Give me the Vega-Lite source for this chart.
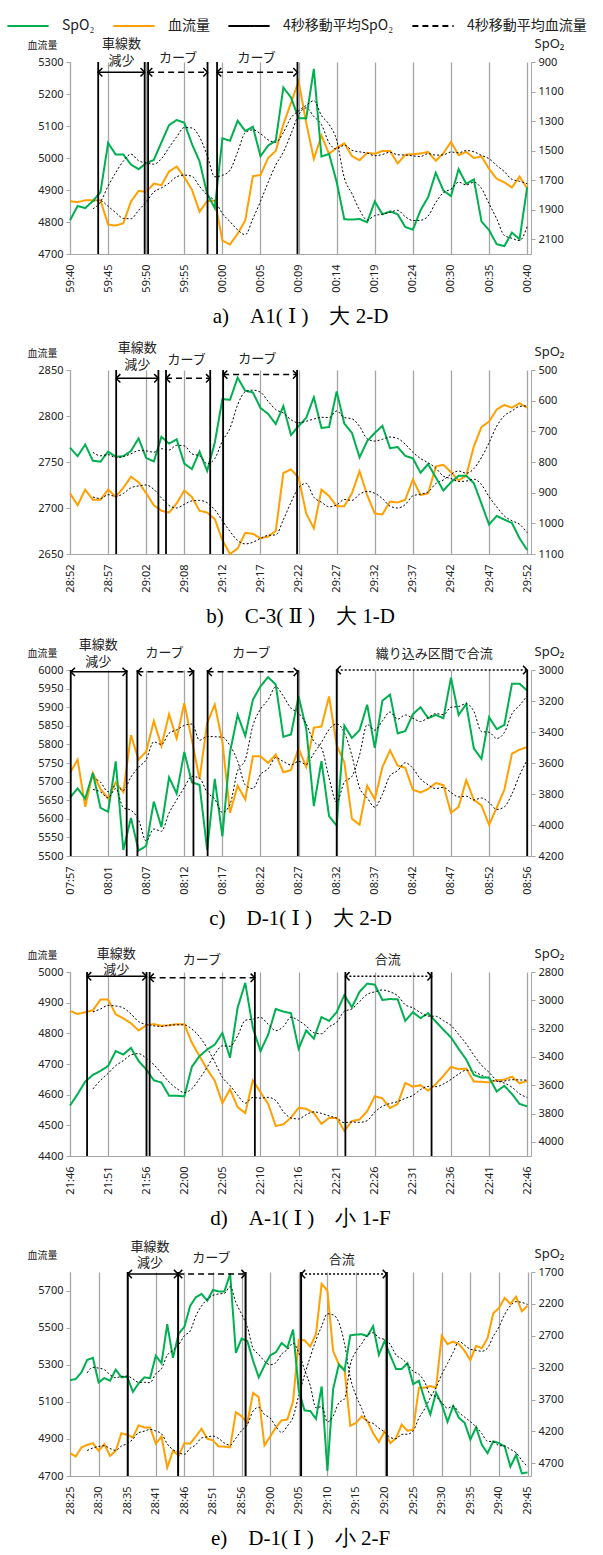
{
"$schema": "https://vega.github.io/schema/vega-lite/v6.json",
"padding": {"left": 6, "top": 4, "right": 0, "bottom": 0},
"bounds": "flush",
"spacing": 116,
"config": {
 "view": {"stroke": null},
 "axis": {"domainColor": "#a6a6a6", "tickColor": "#a6a6a6", "gridColor": "#a6a6a6", "labelFont": "Noto Sans", "labelFontSize": 11, "labelColor": "#222222", "titleFont": "Noto Sans CJK JP", "titleFontWeight": "normal", "titleColor": "#222222", "labelOverlap": false, "labelFlush": false},
 "axisX": {"grid": true, "gridWidth": 1.3, "ticks": false, "labelAngle": -90, "labelPadding": 10},
 "axisY": {"grid": false, "tickSize": 4, "labelPadding": 3, "format": "d"},
 "title": {"font": "Liberation Serif, DejaVu Serif", "fontSize": 21, "fontWeight": "normal", "orient": "bottom", "offset": 14, "color": "#000000"}
},
"datasets": {
 "a": [{"i":0,"s":1972,"b":4865},{"i":1,"s":1875,"b":4862},{"i":2,"s":1889,"b":4868},{"i":3,"s":1841,"b":4868},{"i":4,"s":1781,"b":4868},{"i":5,"s":1448,"b":4792},{"i":6,"s":1527,"b":4789},{"i":7,"s":1527,"b":4796},{"i":8,"s":1594,"b":4864},{"i":9,"s":1626,"b":4897},{"i":10,"s":1585,"b":4894},{"i":11,"s":1563,"b":4920},{"i":12,"s":1444,"b":4915},{"i":13,"s":1327,"b":4958},{"i":14,"s":1293,"b":4973},{"i":15,"s":1311,"b":4940},{"i":16,"s":1455,"b":4901},{"i":17,"s":1572,"b":4832},{"i":18,"s":1792,"b":4865},{"i":19,"s":1889,"b":4867},{"i":20,"s":1417,"b":4742},{"i":21,"s":1433,"b":4730},{"i":22,"s":1298,"b":4763},{"i":23,"s":1367,"b":4805},{"i":24,"s":1338,"b":4943},{"i":25,"s":1538,"b":4947},{"i":26,"s":1466,"b":5000},{"i":27,"s":1433,"b":5022},{"i":28,"s":1073,"b":5105},{"i":29,"s":1140,"b":5172},{"i":30,"s":1280,"b":5240},{"i":31,"s":1282,"b":5110},{"i":32,"s":947,"b":4997},{"i":33,"s":1540,"b":5070},{"i":34,"s":1522,"b":5013},{"i":35,"s":1713,"b":5032},{"i":36,"s":1965,"b":5046},{"i":37,"s":1967,"b":5006},{"i":38,"s":1963,"b":4993},{"i":39,"s":1985,"b":5016},{"i":40,"s":1844,"b":5013},{"i":41,"s":1931,"b":5022},{"i":42,"s":1911,"b":5022},{"i":43,"s":1931,"b":4983},{"i":44,"s":2017,"b":5010},{"i":45,"s":2035,"b":5012},{"i":46,"s":1904,"b":5014},{"i":47,"s":1815,"b":5019},{"i":48,"s":1650,"b":4991},{"i":49,"s":1770,"b":5015},{"i":50,"s":1808,"b":5050},{"i":51,"s":1626,"b":5009},{"i":52,"s":1725,"b":5019},{"i":53,"s":1695,"b":5000},{"i":54,"s":1979,"b":5005},{"i":55,"s":2039,"b":4966},{"i":56,"s":2134,"b":4935},{"i":57,"s":2147,"b":4924},{"i":58,"s":2055,"b":4908},{"i":59,"s":2100,"b":4942},{"i":60,"s":1747,"b":4905}],
 "b": [{"i":0,"s":753,"b":2716},{"i":1,"s":781,"b":2703},{"i":2,"s":743,"b":2720},{"i":3,"s":796,"b":2709},{"i":4,"s":799,"b":2709},{"i":5,"s":766,"b":2720},{"i":6,"s":783,"b":2712},{"i":7,"s":781,"b":2722},{"i":8,"s":764,"b":2734},{"i":9,"s":723,"b":2728},{"i":10,"s":787,"b":2716},{"i":11,"s":798,"b":2703},{"i":12,"s":718,"b":2697},{"i":13,"s":740,"b":2695},{"i":14,"s":726,"b":2705},{"i":15,"s":805,"b":2719},{"i":16,"s":823,"b":2712},{"i":17,"s":766,"b":2697},{"i":18,"s":829,"b":2695},{"i":19,"s":737,"b":2688},{"i":20,"s":595,"b":2665},{"i":21,"s":597,"b":2650},{"i":22,"s":525,"b":2656},{"i":23,"s":568,"b":2673},{"i":24,"s":573,"b":2672},{"i":25,"s":624,"b":2667},{"i":26,"s":643,"b":2669},{"i":27,"s":676,"b":2675},{"i":28,"s":618,"b":2738},{"i":29,"s":712,"b":2742},{"i":30,"s":683,"b":2733},{"i":31,"s":656,"b":2694},{"i":32,"s":589,"b":2678},{"i":33,"s":689,"b":2720},{"i":34,"s":686,"b":2713},{"i":35,"s":570,"b":2702},{"i":36,"s":675,"b":2702},{"i":37,"s":705,"b":2716},{"i":38,"s":785,"b":2740},{"i":39,"s":732,"b":2714},{"i":40,"s":705,"b":2694},{"i":41,"s":682,"b":2693},{"i":42,"s":755,"b":2707},{"i":43,"s":751,"b":2706},{"i":44,"s":780,"b":2709},{"i":45,"s":788,"b":2731},{"i":46,"s":835,"b":2714},{"i":47,"s":807,"b":2716},{"i":48,"s":850,"b":2745},{"i":49,"s":893,"b":2747},{"i":50,"s":866,"b":2739},{"i":51,"s":845,"b":2730},{"i":52,"s":845,"b":2735},{"i":53,"s":869,"b":2767},{"i":54,"s":936,"b":2788},{"i":55,"s":1004,"b":2794},{"i":56,"s":976,"b":2807},{"i":57,"s":988,"b":2812},{"i":58,"s":999,"b":2809},{"i":59,"s":1049,"b":2814},{"i":60,"s":1087,"b":2809}],
 "c": [{"i":0,"s":3823,"b":5723},{"i":1,"s":3764,"b":5759},{"i":2,"s":3830,"b":5632},{"i":3,"s":3664,"b":5723},{"i":4,"s":3889,"b":5680},{"i":5,"s":3915,"b":5655},{"i":6,"s":3590,"b":5698},{"i":7,"s":4161,"b":5672},{"i":8,"s":3954,"b":5825},{"i":9,"s":4165,"b":5759},{"i":10,"s":4135,"b":5781},{"i":11,"s":3849,"b":5863},{"i":12,"s":4013,"b":5796},{"i":13,"s":3693,"b":5881},{"i":14,"s":3797,"b":5816},{"i":15,"s":3529,"b":5911},{"i":16,"s":3725,"b":5811},{"i":17,"s":3741,"b":5707},{"i":18,"s":4161,"b":5857},{"i":19,"s":3703,"b":5907},{"i":20,"s":4074,"b":5807},{"i":21,"s":3529,"b":5616},{"i":22,"s":3290,"b":5689},{"i":23,"s":3425,"b":5652},{"i":24,"s":3192,"b":5768},{"i":25,"s":3105,"b":5768},{"i":26,"s":3046,"b":5750},{"i":27,"s":3094,"b":5773},{"i":28,"s":3431,"b":5725},{"i":29,"s":3416,"b":5731},{"i":30,"s":3170,"b":5789},{"i":31,"s":3377,"b":5739},{"i":32,"s":3878,"b":5845},{"i":33,"s":3588,"b":5848},{"i":34,"s":3943,"b":5929},{"i":35,"s":4004,"b":5798},{"i":36,"s":3359,"b":5752},{"i":37,"s":3438,"b":5600},{"i":38,"s":3388,"b":5584},{"i":39,"s":3224,"b":5689},{"i":40,"s":3503,"b":5652},{"i":41,"s":3198,"b":5739},{"i":42,"s":3159,"b":5784},{"i":43,"s":3409,"b":5743},{"i":44,"s":3394,"b":5737},{"i":45,"s":3285,"b":5678},{"i":46,"s":3240,"b":5671},{"i":47,"s":3311,"b":5680},{"i":48,"s":3290,"b":5696},{"i":49,"s":3311,"b":5691},{"i":50,"s":3050,"b":5616},{"i":51,"s":3290,"b":5632},{"i":52,"s":3220,"b":5704},{"i":53,"s":3507,"b":5651},{"i":54,"s":3573,"b":5636},{"i":55,"s":3305,"b":5584},{"i":56,"s":3381,"b":5630},{"i":57,"s":3355,"b":5678},{"i":58,"s":3089,"b":5775},{"i":59,"s":3089,"b":5786},{"i":60,"s":3133,"b":5793}],
 "d": [{"i":0,"s":3744,"b":4873},{"i":1,"s":3662,"b":4863},{"i":2,"s":3574,"b":4869},{"i":3,"s":3527,"b":4875},{"i":4,"s":3499,"b":4910},{"i":5,"s":3464,"b":4910},{"i":6,"s":3359,"b":4862},{"i":7,"s":3383,"b":4849},{"i":8,"s":3336,"b":4833},{"i":9,"s":3429,"b":4809},{"i":10,"s":3488,"b":4826},{"i":11,"s":3565,"b":4830},{"i":12,"s":3581,"b":4825},{"i":13,"s":3674,"b":4826},{"i":14,"s":3674,"b":4830},{"i":15,"s":3679,"b":4830},{"i":16,"s":3469,"b":4769},{"i":17,"s":3394,"b":4726},{"i":18,"s":3348,"b":4683},{"i":19,"s":3313,"b":4645},{"i":20,"s":3231,"b":4572},{"i":21,"s":3406,"b":4618},{"i":22,"s":3052,"b":4559},{"i":23,"s":2877,"b":4540},{"i":24,"s":3196,"b":4647},{"i":25,"s":3359,"b":4608},{"i":26,"s":3243,"b":4570},{"i":27,"s":3061,"b":4498},{"i":28,"s":3080,"b":4503},{"i":29,"s":3091,"b":4525},{"i":30,"s":3343,"b":4557},{"i":31,"s":3213,"b":4554},{"i":32,"s":3271,"b":4540},{"i":33,"s":3119,"b":4505},{"i":34,"s":3145,"b":4524},{"i":35,"s":3084,"b":4524},{"i":36,"s":2963,"b":4482},{"i":37,"s":3049,"b":4514},{"i":38,"s":2940,"b":4519},{"i":39,"s":2882,"b":4546},{"i":40,"s":2889,"b":4595},{"i":41,"s":2998,"b":4588},{"i":42,"s":2991,"b":4556},{"i":43,"s":2993,"b":4570},{"i":44,"s":3145,"b":4638},{"i":45,"s":3084,"b":4626},{"i":46,"s":3126,"b":4631},{"i":47,"s":3091,"b":4613},{"i":48,"s":3150,"b":4634},{"i":49,"s":3208,"b":4661},{"i":50,"s":3262,"b":4691},{"i":51,"s":3343,"b":4683},{"i":52,"s":3418,"b":4685},{"i":53,"s":3527,"b":4643},{"i":54,"s":3546,"b":4642},{"i":55,"s":3546,"b":4640},{"i":56,"s":3644,"b":4647},{"i":57,"s":3604,"b":4649},{"i":58,"s":3662,"b":4659},{"i":59,"s":3732,"b":4637},{"i":60,"s":3749,"b":4645}],
 "e": [{"i":0,"s":3396,"b":4823},{"i":1,"s":3380,"b":4805},{"i":2,"s":3274,"b":4854},{"i":3,"s":3079,"b":4868},{"i":4,"s":3047,"b":4877},{"i":5,"s":3432,"b":4836},{"i":6,"s":3364,"b":4872},{"i":7,"s":3406,"b":4808},{"i":8,"s":3232,"b":4836},{"i":9,"s":3353,"b":4931},{"i":10,"s":3343,"b":4922},{"i":11,"s":3580,"b":4908},{"i":12,"s":3448,"b":4973},{"i":13,"s":3353,"b":4962},{"i":14,"s":3364,"b":4962},{"i":15,"s":3015,"b":4874},{"i":16,"s":3131,"b":4913},{"i":17,"s":2519,"b":4745},{"i":18,"s":3047,"b":4836},{"i":19,"s":2667,"b":4810},{"i":20,"s":2561,"b":4877},{"i":21,"s":2233,"b":4874},{"i":22,"s":2096,"b":4913},{"i":23,"s":2043,"b":4955},{"i":24,"s":2149,"b":4901},{"i":25,"s":1980,"b":4892},{"i":26,"s":2006,"b":4859},{"i":27,"s":2006,"b":4859},{"i":28,"s":1726,"b":4854},{"i":29,"s":2968,"b":5044},{"i":30,"s":2746,"b":5022},{"i":31,"s":2783,"b":4986},{"i":32,"s":3089,"b":5148},{"i":33,"s":3353,"b":5125},{"i":34,"s":3168,"b":4865},{"i":35,"s":3010,"b":4913},{"i":36,"s":2957,"b":4962},{"i":37,"s":2815,"b":5000},{"i":38,"s":2888,"b":5004},{"i":39,"s":2603,"b":5103},{"i":40,"s":3565,"b":5434},{"i":41,"s":3871,"b":5432},{"i":42,"s":3881,"b":5398},{"i":43,"s":4003,"b":5465},{"i":44,"s":3496,"b":5736},{"i":45,"s":4822,"b":5700},{"i":46,"s":3538,"b":5374},{"i":47,"s":3153,"b":5302},{"i":48,"s":3248,"b":5275},{"i":49,"s":2693,"b":4971},{"i":50,"s":2682,"b":4986},{"i":51,"s":2677,"b":5022},{"i":52,"s":2704,"b":4995},{"i":53,"s":2550,"b":4931},{"i":54,"s":2999,"b":4883},{"i":55,"s":2783,"b":4940},{"i":56,"s":3010,"b":4877},{"i":57,"s":3221,"b":4904},{"i":58,"s":3221,"b":4977},{"i":59,"s":3131,"b":4944},{"i":60,"s":3459,"b":4950},{"i":61,"s":3406,"b":5176},{"i":62,"s":3697,"b":5176},{"i":63,"s":3934,"b":5185},{"i":64,"s":3591,"b":5176},{"i":65,"s":3776,"b":5456},{"i":66,"s":4050,"b":5411},{"i":67,"s":3802,"b":5425},{"i":68,"s":3987,"b":5411},{"i":69,"s":4066,"b":5374},{"i":70,"s":4330,"b":5324},{"i":71,"s":4135,"b":5402},{"i":72,"s":4410,"b":5389},{"i":73,"s":4542,"b":5443},{"i":74,"s":4357,"b":5577},{"i":75,"s":4383,"b":5606},{"i":76,"s":4436,"b":5660},{"i":77,"s":4753,"b":5628},{"i":78,"s":4568,"b":5667},{"i":79,"s":4859,"b":5588},{"i":80,"s":4843,"b":5618}],
 "ev_a": [{"x":3.7},{"x":9.8},{"x":10.25},{"x":18.05},{"x":19.3},{"x":29.85}],
 "ar_a": [{"x1":3.7,"x2":9.8,"y":5268,"k":"lane"},{"x1":10.25,"x2":18.05,"y":5268,"k":"curve"},{"x1":19.3,"x2":29.85,"y":5268,"k":"curve"}],
 "tx_a": [{"x":6.75,"y":5356,"t":"車線数"},{"x":6.75,"y":5303,"t":"減少"},{"x":14.2,"y":5314,"t":"カーブ"},{"x":24.5,"y":5314,"t":"カーブ"}],
 "ev_b": [{"x":6.06},{"x":11.6},{"x":12.6},{"x":18.4},{"x":20.1},{"x":29.8}],
 "ar_b": [{"x1":6.06,"x2":11.6,"y":2841,"k":"lane"},{"x1":12.6,"x2":18.4,"y":2841,"k":"curve"},{"x1":20.1,"x2":29.8,"y":2845,"k":"curve"}],
 "tx_b": [{"x":8.84,"y":2874,"t":"車線数"},{"x":8.84,"y":2855,"t":"減少"},{"x":15.3,"y":2861,"t":"カーブ"},{"x":24.6,"y":2862,"t":"カーブ"}],
 "ev_c": [{"x":0.1},{"x":7.44},{"x":8.85},{"x":16.2},{"x":18.06},{"x":29.9},{"x":35.0},{"x":60.0}],
 "ar_c": [{"x1":0.1,"x2":7.44,"y":5995,"k":"lane"},{"x1":8.85,"x2":16.2,"y":5995,"k":"curve"},{"x1":18.06,"x2":29.9,"y":5995,"k":"curve"},{"x1":35.0,"x2":60.0,"y":6000,"k":"merge"}],
 "tx_c": [{"x":3.7,"y":6067,"t":"車線数"},{"x":3.7,"y":6021,"t":"減少"},{"x":12.4,"y":6047,"t":"カーブ"},{"x":23.8,"y":6047,"t":"カーブ"},{"x":47.8,"y":6044,"t":"織り込み区間で合流"}],
 "ev_d": [{"x":2.24},{"x":10.04},{"x":10.45},{"x":24.26},{"x":36.14},{"x":47.45}],
 "ar_d": [{"x1":2.24,"x2":10.04,"y":4986,"k":"lane"},{"x1":10.45,"x2":24.26,"y":4981,"k":"curve"},{"x1":36.14,"x2":47.45,"y":4986,"k":"merge"}],
 "tx_d": [{"x":6.07,"y":5060,"t":"車線数"},{"x":6.07,"y":5006,"t":"減少"},{"x":17.3,"y":5040,"t":"カーブ"},{"x":41.7,"y":5038,"t":"合流"}],
 "ev_e": [{"x":10.1},{"x":18.9},{"x":30.7},{"x":40.4},{"x":55.4}],
 "ar_e": [{"x1":10.1,"x2":18.9,"y":5789,"k":"lane"},{"x1":18.9,"x2":30.7,"y":5789,"k":"curve"},{"x1":40.4,"x2":55.4,"y":5789,"k":"merge"}],
 "tx_e": [{"x":14.0,"y":5936,"t":"車線数"},{"x":14.0,"y":5846,"t":"減少"},{"x":24.7,"y":5876,"t":"カーブ"},{"x":47.5,"y":5867,"t":"合流"}]
},
"vconcat": [
{
 "width": 461, "height": 192,
 "title": {"text": "a)　A1( Ⅰ )　大 2-D"},
 "layer": [
  {"data": {"name": "a"}, "layer": [
   {"transform": [{"fold": ["b"], "as": ["series", "v"]}],
    "mark": {"type": "line", "strokeWidth": 2},
    "encoding": {
     "x": {"field": "i", "type": "quantitative", "title": null, "scale": {"domain": [0, 60.5], "nice": false, "zero": false}, "axis": {"values": [0,5,10,15,20,25,30,35,40,45,50,55,60], "labelExpr": "['59:40','59:45','59:50','59:55','00:00','00:05','00:09','00:14','00:19','00:24','00:30','00:35','00:40'][round(datum.value/5)]"}},
     "y": {"field": "v", "type": "quantitative", "title": "血流量", "scale": {"domain": [4700, 5300], "nice": false, "zero": false}, "axis": {"values": [4700,4800,4900,5000,5100,5200,5300], "titleAngle": 0, "titleX": -28, "titleY": -12, "titleAlign": "center", "titleBaseline": "bottom", "titleFontSize": 10}},
     "color": {"field": "series", "type": "nominal", "scale": {"domain": ["s","b","ms","mb"], "range": ["#00b050","#ffa000","#000000","#000000"]}, "legend": {"title": null, "orient": "none", "legendX": -64, "legendY": -58, "direction": "horizontal", "symbolType": "stroke", "symbolSize": 1700, "symbolStrokeWidth": 2, "labelFont": "Noto Sans CJK JP", "labelFontSize": 14, "labelColor": "#222222", "labelOffset": 12, "columnPadding": 14, "labelLimit": 300, "labelExpr": "datum.label=='s'?'SpO₂':datum.label=='b'?'血流量':datum.label=='ms'?'4秒移動平均SpO₂':'4秒移動平均血流量'"}},
     "strokeDash": {"field": "series", "type": "nominal", "scale": {"domain": ["s","b","ms","mb"], "range": [[1,0],[1,0],[1,0],[6,4]]}, "legend": {"title": null, "orient": "none", "legendX": -64, "legendY": -58, "direction": "horizontal", "symbolType": "stroke", "symbolSize": 1700, "symbolStrokeWidth": 2, "labelFont": "Noto Sans CJK JP", "labelFontSize": 14, "labelColor": "#222222", "labelOffset": 12, "columnPadding": 14, "labelLimit": 300, "labelExpr": "datum.label=='s'?'SpO₂':datum.label=='b'?'血流量':datum.label=='ms'?'4秒移動平均SpO₂':'4秒移動平均血流量'"}}
    }},
   {"transform": [{"window": [{"op": "mean", "field": "b", "as": "m"}], "frame": [-3, 0], "sort": [{"field": "i"}]}, {"filter": "datum.i >= 3"}],
    "mark": {"type": "line", "color": "#000000", "strokeWidth": 1, "strokeDash": [2, 2], "interpolate": "monotone"},
    "encoding": {"x": {"field": "i", "type": "quantitative", "title": null, "axis": {"values": [0,5,10,15,20,25,30,35,40,45,50,55,60], "labelExpr": "['59:40','59:45','59:50','59:55','00:00','00:05','00:09','00:14','00:19','00:24','00:30','00:35','00:40'][round(datum.value/5)]"}}, "y": {"field": "m", "type": "quantitative", "title": "血流量", "axis": {"values": [4700,4800,4900,5000,5100,5200,5300], "titleAngle": 0, "titleX": -28, "titleY": -12, "titleAlign": "center", "titleBaseline": "bottom", "titleFontSize": 10}}}}
  ]},
  {"data": {"name": "a"}, "layer": [
   {"transform": [{"fold": ["s"], "as": ["series", "v"]}],
    "mark": {"type": "line", "strokeWidth": 2},
    "encoding": {
     "x": {"field": "i", "type": "quantitative", "title": null, "axis": {"values": [0,5,10,15,20,25,30,35,40,45,50,55,60], "labelExpr": "['59:40','59:45','59:50','59:55','00:00','00:05','00:09','00:14','00:19','00:24','00:30','00:35','00:40'][round(datum.value/5)]"}},
     "y": {"field": "v", "type": "quantitative", "title": "SpO₂", "scale": {"domain": [900, 2200], "reverse": true, "nice": false, "zero": false}, "axis": {"orient": "right", "values": [900,1100,1300,1500,1700,1900,2100], "titleAngle": 0, "titleX": 18, "titleY": -12, "titleAlign": "center", "titleBaseline": "bottom", "titleFontSize": 13, "titleFont": "Noto Sans"}},
     "color": {"field": "series", "type": "nominal", "scale": {"domain": ["s","b","ms","mb"], "range": ["#00b050","#ffa000","#000000","#000000"]}},
     "strokeDash": {"field": "series", "type": "nominal", "scale": {"domain": ["s","b","ms","mb"], "range": [[1,0],[1,0],[1,0],[6,4]]}}
    }},
   {"transform": [{"window": [{"op": "mean", "field": "s", "as": "m"}], "frame": [-3, 0], "sort": [{"field": "i"}]}, {"filter": "datum.i >= 3"}],
    "mark": {"type": "line", "color": "#000000", "strokeWidth": 1, "strokeDash": [2, 2], "interpolate": "monotone"},
    "encoding": {"x": {"field": "i", "type": "quantitative", "title": null, "axis": {"values": [0,5,10,15,20,25,30,35,40,45,50,55,60], "labelExpr": "['59:40','59:45','59:50','59:55','00:00','00:05','00:09','00:14','00:19','00:24','00:30','00:35','00:40'][round(datum.value/5)]"}}, "y": {"field": "m", "type": "quantitative", "title": "SpO₂", "axis": {"orient": "right", "values": [900,1100,1300,1500,1700,1900,2100], "titleAngle": 0, "titleX": 18, "titleY": -12, "titleAlign": "center", "titleBaseline": "bottom", "titleFontSize": 13, "titleFont": "Noto Sans"}}}}
  ]},
  {"layer": [
   {"data": {"name": "ev_a"}, "mark": {"type": "rule", "color": "#000000", "strokeWidth": 1.8}, "encoding": {"x": {"field": "x", "type": "quantitative", "title": null, "axis": {"values": [0,5,10,15,20,25,30,35,40,45,50,55,60], "labelExpr": "['59:40','59:45','59:50','59:55','00:00','00:05','00:09','00:14','00:19','00:24','00:30','00:35','00:40'][round(datum.value/5)]"}}}},
   {"data": {"name": "ar_a"}, "mark": {"type": "rule", "color": "#000000", "strokeWidth": 1.5},
    "encoding": {"x": {"field": "x1", "type": "quantitative", "title": null, "axis": {"values": [0,5,10,15,20,25,30,35,40,45,50,55,60], "labelExpr": "['59:40','59:45','59:50','59:55','00:00','00:05','00:09','00:14','00:19','00:24','00:30','00:35','00:40'][round(datum.value/5)]"}}, "x2": {"field": "x2"}, "y": {"field": "y", "type": "quantitative", "scale": {"domain": [4700, 5300], "nice": false, "zero": false}, "axis": null},
     "strokeDash": {"condition": [{"test": "datum.k == 'curve'", "value": [6, 4]}, {"test": "datum.k == 'merge'", "value": [2, 2]}], "value": [1, 0]}}},
   {"data": {"name": "ar_a"}, "mark": {"type": "point", "shape": "M1,-1L0,0L1,1", "size": 70, "filled": false, "color": "#000000", "strokeWidth": 1.5, "opacity": 1},
    "encoding": {"x": {"field": "x1", "type": "quantitative", "title": null, "axis": {"values": [0,5,10,15,20,25,30,35,40,45,50,55,60], "labelExpr": "['59:40','59:45','59:50','59:55','00:00','00:05','00:09','00:14','00:19','00:24','00:30','00:35','00:40'][round(datum.value/5)]"}}, "y": {"field": "y", "type": "quantitative", "axis": null}}},
   {"data": {"name": "ar_a"}, "mark": {"type": "point", "shape": "M-1,-1L0,0L-1,1", "size": 70, "filled": false, "color": "#000000", "strokeWidth": 1.5, "opacity": 1},
    "encoding": {"x": {"field": "x2", "type": "quantitative", "title": null, "axis": {"values": [0,5,10,15,20,25,30,35,40,45,50,55,60], "labelExpr": "['59:40','59:45','59:50','59:55','00:00','00:05','00:09','00:14','00:19','00:24','00:30','00:35','00:40'][round(datum.value/5)]"}}, "y": {"field": "y", "type": "quantitative", "axis": null}}},
   {"data": {"name": "tx_a"}, "mark": {"type": "text", "font": "Noto Sans CJK JP", "fontSize": 13, "color": "#222222", "baseline": "middle"},
    "encoding": {"x": {"field": "x", "type": "quantitative", "title": null, "axis": {"values": [0,5,10,15,20,25,30,35,40,45,50,55,60], "labelExpr": "['59:40','59:45','59:50','59:55','00:00','00:05','00:09','00:14','00:19','00:24','00:30','00:35','00:40'][round(datum.value/5)]"}}, "y": {"field": "y", "type": "quantitative", "axis": null}, "text": {"field": "t"}}}
  ]}
 ],
 "resolve": {"scale": {"y": "independent"}}
},
{
 "width": 461, "height": 184,
 "title": {"text": "b)　C-3( Ⅱ )　大 1-D"},
 "layer": [
  {"data": {"name": "b"}, "layer": [
   {"transform": [{"fold": ["b"], "as": ["series", "v"]}],
    "mark": {"type": "line", "strokeWidth": 2},
    "encoding": {
     "x": {"field": "i", "type": "quantitative", "title": null, "scale": {"domain": [0, 60.5], "nice": false, "zero": false}, "axis": {"values": [0,5,10,15,20,25,30,35,40,45,50,55,60], "labelExpr": "['28:52','28:57','29:02','29:08','29:12','29:17','29:22','29:27','29:32','29:37','29:42','29:47','29:52'][round(datum.value/5)]"}},
     "y": {"field": "v", "type": "quantitative", "title": "血流量", "scale": {"domain": [2650, 2850], "nice": false, "zero": false}, "axis": {"values": [2650,2700,2750,2800,2850], "titleAngle": 0, "titleX": -28, "titleY": -12, "titleAlign": "center", "titleBaseline": "bottom", "titleFontSize": 10}},
     "color": {"field": "series", "type": "nominal", "scale": {"domain": ["s","b","ms","mb"], "range": ["#00b050","#ffa000","#000000","#000000"]}},
     "strokeDash": {"field": "series", "type": "nominal", "scale": {"domain": ["s","b","ms","mb"], "range": [[1,0],[1,0],[1,0],[6,4]]}}
    }},
   {"transform": [{"window": [{"op": "mean", "field": "b", "as": "m"}], "frame": [-3, 0], "sort": [{"field": "i"}]}, {"filter": "datum.i >= 3"}],
    "mark": {"type": "line", "color": "#000000", "strokeWidth": 1, "strokeDash": [2, 2], "interpolate": "monotone"},
    "encoding": {"x": {"field": "i", "type": "quantitative", "title": null, "axis": {"values": [0,5,10,15,20,25,30,35,40,45,50,55,60], "labelExpr": "['28:52','28:57','29:02','29:08','29:12','29:17','29:22','29:27','29:32','29:37','29:42','29:47','29:52'][round(datum.value/5)]"}}, "y": {"field": "m", "type": "quantitative", "title": "血流量", "axis": {"values": [2650,2700,2750,2800,2850], "titleAngle": 0, "titleX": -28, "titleY": -12, "titleAlign": "center", "titleBaseline": "bottom", "titleFontSize": 10}}}}
  ]},
  {"data": {"name": "b"}, "layer": [
   {"transform": [{"fold": ["s"], "as": ["series", "v"]}],
    "mark": {"type": "line", "strokeWidth": 2},
    "encoding": {
     "x": {"field": "i", "type": "quantitative", "title": null, "axis": {"values": [0,5,10,15,20,25,30,35,40,45,50,55,60], "labelExpr": "['28:52','28:57','29:02','29:08','29:12','29:17','29:22','29:27','29:32','29:37','29:42','29:47','29:52'][round(datum.value/5)]"}},
     "y": {"field": "v", "type": "quantitative", "title": "SpO₂", "scale": {"domain": [500, 1100], "reverse": true, "nice": false, "zero": false}, "axis": {"orient": "right", "values": [500,600,700,800,900,1000,1100], "titleAngle": 0, "titleX": 18, "titleY": -12, "titleAlign": "center", "titleBaseline": "bottom", "titleFontSize": 13, "titleFont": "Noto Sans"}},
     "color": {"field": "series", "type": "nominal", "scale": {"domain": ["s","b","ms","mb"], "range": ["#00b050","#ffa000","#000000","#000000"]}},
     "strokeDash": {"field": "series", "type": "nominal", "scale": {"domain": ["s","b","ms","mb"], "range": [[1,0],[1,0],[1,0],[6,4]]}}
    }},
   {"transform": [{"window": [{"op": "mean", "field": "s", "as": "m"}], "frame": [-3, 0], "sort": [{"field": "i"}]}, {"filter": "datum.i >= 3"}],
    "mark": {"type": "line", "color": "#000000", "strokeWidth": 1, "strokeDash": [2, 2], "interpolate": "monotone"},
    "encoding": {"x": {"field": "i", "type": "quantitative", "title": null, "axis": {"values": [0,5,10,15,20,25,30,35,40,45,50,55,60], "labelExpr": "['28:52','28:57','29:02','29:08','29:12','29:17','29:22','29:27','29:32','29:37','29:42','29:47','29:52'][round(datum.value/5)]"}}, "y": {"field": "m", "type": "quantitative", "title": "SpO₂", "axis": {"orient": "right", "values": [500,600,700,800,900,1000,1100], "titleAngle": 0, "titleX": 18, "titleY": -12, "titleAlign": "center", "titleBaseline": "bottom", "titleFontSize": 13, "titleFont": "Noto Sans"}}}}
  ]},
  {"layer": [
   {"data": {"name": "ev_b"}, "mark": {"type": "rule", "color": "#000000", "strokeWidth": 1.8}, "encoding": {"x": {"field": "x", "type": "quantitative", "title": null, "axis": {"values": [0,5,10,15,20,25,30,35,40,45,50,55,60], "labelExpr": "['28:52','28:57','29:02','29:08','29:12','29:17','29:22','29:27','29:32','29:37','29:42','29:47','29:52'][round(datum.value/5)]"}}}},
   {"data": {"name": "ar_b"}, "mark": {"type": "rule", "color": "#000000", "strokeWidth": 1.5},
    "encoding": {"x": {"field": "x1", "type": "quantitative", "title": null, "axis": {"values": [0,5,10,15,20,25,30,35,40,45,50,55,60], "labelExpr": "['28:52','28:57','29:02','29:08','29:12','29:17','29:22','29:27','29:32','29:37','29:42','29:47','29:52'][round(datum.value/5)]"}}, "x2": {"field": "x2"}, "y": {"field": "y", "type": "quantitative", "scale": {"domain": [2650, 2850], "nice": false, "zero": false}, "axis": null},
     "strokeDash": {"condition": [{"test": "datum.k == 'curve'", "value": [6, 4]}, {"test": "datum.k == 'merge'", "value": [2, 2]}], "value": [1, 0]}}},
   {"data": {"name": "ar_b"}, "mark": {"type": "point", "shape": "M1,-1L0,0L1,1", "size": 70, "filled": false, "color": "#000000", "strokeWidth": 1.5, "opacity": 1},
    "encoding": {"x": {"field": "x1", "type": "quantitative", "title": null, "axis": {"values": [0,5,10,15,20,25,30,35,40,45,50,55,60], "labelExpr": "['28:52','28:57','29:02','29:08','29:12','29:17','29:22','29:27','29:32','29:37','29:42','29:47','29:52'][round(datum.value/5)]"}}, "y": {"field": "y", "type": "quantitative", "axis": null}}},
   {"data": {"name": "ar_b"}, "mark": {"type": "point", "shape": "M-1,-1L0,0L-1,1", "size": 70, "filled": false, "color": "#000000", "strokeWidth": 1.5, "opacity": 1},
    "encoding": {"x": {"field": "x2", "type": "quantitative", "title": null, "axis": {"values": [0,5,10,15,20,25,30,35,40,45,50,55,60], "labelExpr": "['28:52','28:57','29:02','29:08','29:12','29:17','29:22','29:27','29:32','29:37','29:42','29:47','29:52'][round(datum.value/5)]"}}, "y": {"field": "y", "type": "quantitative", "axis": null}}},
   {"data": {"name": "tx_b"}, "mark": {"type": "text", "font": "Noto Sans CJK JP", "fontSize": 13, "color": "#222222", "baseline": "middle"},
    "encoding": {"x": {"field": "x", "type": "quantitative", "title": null, "axis": {"values": [0,5,10,15,20,25,30,35,40,45,50,55,60], "labelExpr": "['28:52','28:57','29:02','29:08','29:12','29:17','29:22','29:27','29:32','29:37','29:42','29:47','29:52'][round(datum.value/5)]"}}, "y": {"field": "y", "type": "quantitative", "axis": null}, "text": {"field": "t"}}}
  ]}
 ],
 "resolve": {"scale": {"y": "independent"}}
},
{
 "width": 461, "height": 186,
 "title": {"text": "c)　D-1( Ⅰ )　大 2-D"},
 "layer": [
  {"data": {"name": "c"}, "layer": [
   {"transform": [{"fold": ["b"], "as": ["series", "v"]}],
    "mark": {"type": "line", "strokeWidth": 2},
    "encoding": {
     "x": {"field": "i", "type": "quantitative", "title": null, "scale": {"domain": [0, 60.5], "nice": false, "zero": false}, "axis": {"values": [0,5,10,15,20,25,30,35,40,45,50,55,60], "labelExpr": "['07:57','08:01','08:07','08:12','08:17','08:22','08:27','08:32','08:37','08:42','08:47','08:52','08:56'][round(datum.value/5)]"}},
     "y": {"field": "v", "type": "quantitative", "title": "血流量", "scale": {"domain": [5500, 6000], "nice": false, "zero": false}, "axis": {"values": [5500,5550,5600,5650,5700,5750,5800,5850,5900,5950,6000], "titleAngle": 0, "titleX": -28, "titleY": -12, "titleAlign": "center", "titleBaseline": "bottom", "titleFontSize": 10}},
     "color": {"field": "series", "type": "nominal", "scale": {"domain": ["s","b","ms","mb"], "range": ["#00b050","#ffa000","#000000","#000000"]}},
     "strokeDash": {"field": "series", "type": "nominal", "scale": {"domain": ["s","b","ms","mb"], "range": [[1,0],[1,0],[1,0],[6,4]]}}
    }},
   {"transform": [{"window": [{"op": "mean", "field": "b", "as": "m"}], "frame": [-3, 0], "sort": [{"field": "i"}]}, {"filter": "datum.i >= 3"}],
    "mark": {"type": "line", "color": "#000000", "strokeWidth": 1, "strokeDash": [2, 2], "interpolate": "monotone"},
    "encoding": {"x": {"field": "i", "type": "quantitative", "title": null, "axis": {"values": [0,5,10,15,20,25,30,35,40,45,50,55,60], "labelExpr": "['07:57','08:01','08:07','08:12','08:17','08:22','08:27','08:32','08:37','08:42','08:47','08:52','08:56'][round(datum.value/5)]"}}, "y": {"field": "m", "type": "quantitative", "title": "血流量", "axis": {"values": [5500,5550,5600,5650,5700,5750,5800,5850,5900,5950,6000], "titleAngle": 0, "titleX": -28, "titleY": -12, "titleAlign": "center", "titleBaseline": "bottom", "titleFontSize": 10}}}}
  ]},
  {"data": {"name": "c"}, "layer": [
   {"transform": [{"fold": ["s"], "as": ["series", "v"]}],
    "mark": {"type": "line", "strokeWidth": 2},
    "encoding": {
     "x": {"field": "i", "type": "quantitative", "title": null, "axis": {"values": [0,5,10,15,20,25,30,35,40,45,50,55,60], "labelExpr": "['07:57','08:01','08:07','08:12','08:17','08:22','08:27','08:32','08:37','08:42','08:47','08:52','08:56'][round(datum.value/5)]"}},
     "y": {"field": "v", "type": "quantitative", "title": "SpO₂", "scale": {"domain": [3000, 4200], "reverse": true, "nice": false, "zero": false}, "axis": {"orient": "right", "values": [3000,3200,3400,3600,3800,4000,4200], "titleAngle": 0, "titleX": 18, "titleY": -12, "titleAlign": "center", "titleBaseline": "bottom", "titleFontSize": 13, "titleFont": "Noto Sans"}},
     "color": {"field": "series", "type": "nominal", "scale": {"domain": ["s","b","ms","mb"], "range": ["#00b050","#ffa000","#000000","#000000"]}},
     "strokeDash": {"field": "series", "type": "nominal", "scale": {"domain": ["s","b","ms","mb"], "range": [[1,0],[1,0],[1,0],[6,4]]}}
    }},
   {"transform": [{"window": [{"op": "mean", "field": "s", "as": "m"}], "frame": [-3, 0], "sort": [{"field": "i"}]}, {"filter": "datum.i >= 3"}],
    "mark": {"type": "line", "color": "#000000", "strokeWidth": 1, "strokeDash": [2, 2], "interpolate": "monotone"},
    "encoding": {"x": {"field": "i", "type": "quantitative", "title": null, "axis": {"values": [0,5,10,15,20,25,30,35,40,45,50,55,60], "labelExpr": "['07:57','08:01','08:07','08:12','08:17','08:22','08:27','08:32','08:37','08:42','08:47','08:52','08:56'][round(datum.value/5)]"}}, "y": {"field": "m", "type": "quantitative", "title": "SpO₂", "axis": {"orient": "right", "values": [3000,3200,3400,3600,3800,4000,4200], "titleAngle": 0, "titleX": 18, "titleY": -12, "titleAlign": "center", "titleBaseline": "bottom", "titleFontSize": 13, "titleFont": "Noto Sans"}}}}
  ]},
  {"layer": [
   {"data": {"name": "ev_c"}, "mark": {"type": "rule", "color": "#000000", "strokeWidth": 1.8}, "encoding": {"x": {"field": "x", "type": "quantitative", "title": null, "axis": {"values": [0,5,10,15,20,25,30,35,40,45,50,55,60], "labelExpr": "['07:57','08:01','08:07','08:12','08:17','08:22','08:27','08:32','08:37','08:42','08:47','08:52','08:56'][round(datum.value/5)]"}}}},
   {"data": {"name": "ar_c"}, "mark": {"type": "rule", "color": "#000000", "strokeWidth": 1.5},
    "encoding": {"x": {"field": "x1", "type": "quantitative", "title": null, "axis": {"values": [0,5,10,15,20,25,30,35,40,45,50,55,60], "labelExpr": "['07:57','08:01','08:07','08:12','08:17','08:22','08:27','08:32','08:37','08:42','08:47','08:52','08:56'][round(datum.value/5)]"}}, "x2": {"field": "x2"}, "y": {"field": "y", "type": "quantitative", "scale": {"domain": [5500, 6000], "nice": false, "zero": false}, "axis": null},
     "strokeDash": {"condition": [{"test": "datum.k == 'curve'", "value": [6, 4]}, {"test": "datum.k == 'merge'", "value": [2, 2]}], "value": [1, 0]}}},
   {"data": {"name": "ar_c"}, "mark": {"type": "point", "shape": "M1,-1L0,0L1,1", "size": 70, "filled": false, "color": "#000000", "strokeWidth": 1.5, "opacity": 1},
    "encoding": {"x": {"field": "x1", "type": "quantitative", "title": null, "axis": {"values": [0,5,10,15,20,25,30,35,40,45,50,55,60], "labelExpr": "['07:57','08:01','08:07','08:12','08:17','08:22','08:27','08:32','08:37','08:42','08:47','08:52','08:56'][round(datum.value/5)]"}}, "y": {"field": "y", "type": "quantitative", "axis": null}}},
   {"data": {"name": "ar_c"}, "mark": {"type": "point", "shape": "M-1,-1L0,0L-1,1", "size": 70, "filled": false, "color": "#000000", "strokeWidth": 1.5, "opacity": 1},
    "encoding": {"x": {"field": "x2", "type": "quantitative", "title": null, "axis": {"values": [0,5,10,15,20,25,30,35,40,45,50,55,60], "labelExpr": "['07:57','08:01','08:07','08:12','08:17','08:22','08:27','08:32','08:37','08:42','08:47','08:52','08:56'][round(datum.value/5)]"}}, "y": {"field": "y", "type": "quantitative", "axis": null}}},
   {"data": {"name": "tx_c"}, "mark": {"type": "text", "font": "Noto Sans CJK JP", "fontSize": 13, "color": "#222222", "baseline": "middle"},
    "encoding": {"x": {"field": "x", "type": "quantitative", "title": null, "axis": {"values": [0,5,10,15,20,25,30,35,40,45,50,55,60], "labelExpr": "['07:57','08:01','08:07','08:12','08:17','08:22','08:27','08:32','08:37','08:42','08:47','08:52','08:56'][round(datum.value/5)]"}}, "y": {"field": "y", "type": "quantitative", "axis": null}, "text": {"field": "t"}}}
  ]}
 ],
 "resolve": {"scale": {"y": "independent"}}
},
{
 "width": 461, "height": 184,
 "title": {"text": "d)　A-1( Ⅰ )　小 1-F"},
 "layer": [
  {"data": {"name": "d"}, "layer": [
   {"transform": [{"fold": ["b"], "as": ["series", "v"]}],
    "mark": {"type": "line", "strokeWidth": 2},
    "encoding": {
     "x": {"field": "i", "type": "quantitative", "title": null, "scale": {"domain": [0, 60.5], "nice": false, "zero": false}, "axis": {"values": [0,5,10,15,20,25,30,35,40,45,50,55,60], "labelExpr": "['21:46','21:51','21:56','22:00','22:05','22:10','22:16','22:21','22:26','22:31','22:36','22:41','22:46'][round(datum.value/5)]"}},
     "y": {"field": "v", "type": "quantitative", "title": "血流量", "scale": {"domain": [4400, 5000], "nice": false, "zero": false}, "axis": {"values": [4400,4500,4600,4700,4800,4900,5000], "titleAngle": 0, "titleX": -28, "titleY": -12, "titleAlign": "center", "titleBaseline": "bottom", "titleFontSize": 10}},
     "color": {"field": "series", "type": "nominal", "scale": {"domain": ["s","b","ms","mb"], "range": ["#00b050","#ffa000","#000000","#000000"]}},
     "strokeDash": {"field": "series", "type": "nominal", "scale": {"domain": ["s","b","ms","mb"], "range": [[1,0],[1,0],[1,0],[6,4]]}}
    }},
   {"transform": [{"window": [{"op": "mean", "field": "b", "as": "m"}], "frame": [-3, 0], "sort": [{"field": "i"}]}, {"filter": "datum.i >= 3"}],
    "mark": {"type": "line", "color": "#000000", "strokeWidth": 1, "strokeDash": [2, 2], "interpolate": "monotone"},
    "encoding": {"x": {"field": "i", "type": "quantitative", "title": null, "axis": {"values": [0,5,10,15,20,25,30,35,40,45,50,55,60], "labelExpr": "['21:46','21:51','21:56','22:00','22:05','22:10','22:16','22:21','22:26','22:31','22:36','22:41','22:46'][round(datum.value/5)]"}}, "y": {"field": "m", "type": "quantitative", "title": "血流量", "axis": {"values": [4400,4500,4600,4700,4800,4900,5000], "titleAngle": 0, "titleX": -28, "titleY": -12, "titleAlign": "center", "titleBaseline": "bottom", "titleFontSize": 10}}}}
  ]},
  {"data": {"name": "d"}, "layer": [
   {"transform": [{"fold": ["s"], "as": ["series", "v"]}],
    "mark": {"type": "line", "strokeWidth": 2},
    "encoding": {
     "x": {"field": "i", "type": "quantitative", "title": null, "axis": {"values": [0,5,10,15,20,25,30,35,40,45,50,55,60], "labelExpr": "['21:46','21:51','21:56','22:00','22:05','22:10','22:16','22:21','22:26','22:31','22:36','22:41','22:46'][round(datum.value/5)]"}},
     "y": {"field": "v", "type": "quantitative", "title": "SpO₂", "scale": {"domain": [2800, 4100], "reverse": true, "nice": false, "zero": false}, "axis": {"orient": "right", "values": [2800,3000,3200,3400,3600,3800,4000], "titleAngle": 0, "titleX": 18, "titleY": -12, "titleAlign": "center", "titleBaseline": "bottom", "titleFontSize": 13, "titleFont": "Noto Sans"}},
     "color": {"field": "series", "type": "nominal", "scale": {"domain": ["s","b","ms","mb"], "range": ["#00b050","#ffa000","#000000","#000000"]}},
     "strokeDash": {"field": "series", "type": "nominal", "scale": {"domain": ["s","b","ms","mb"], "range": [[1,0],[1,0],[1,0],[6,4]]}}
    }},
   {"transform": [{"window": [{"op": "mean", "field": "s", "as": "m"}], "frame": [-3, 0], "sort": [{"field": "i"}]}, {"filter": "datum.i >= 3"}],
    "mark": {"type": "line", "color": "#000000", "strokeWidth": 1, "strokeDash": [2, 2], "interpolate": "monotone"},
    "encoding": {"x": {"field": "i", "type": "quantitative", "title": null, "axis": {"values": [0,5,10,15,20,25,30,35,40,45,50,55,60], "labelExpr": "['21:46','21:51','21:56','22:00','22:05','22:10','22:16','22:21','22:26','22:31','22:36','22:41','22:46'][round(datum.value/5)]"}}, "y": {"field": "m", "type": "quantitative", "title": "SpO₂", "axis": {"orient": "right", "values": [2800,3000,3200,3400,3600,3800,4000], "titleAngle": 0, "titleX": 18, "titleY": -12, "titleAlign": "center", "titleBaseline": "bottom", "titleFontSize": 13, "titleFont": "Noto Sans"}}}}
  ]},
  {"layer": [
   {"data": {"name": "ev_d"}, "mark": {"type": "rule", "color": "#000000", "strokeWidth": 1.8}, "encoding": {"x": {"field": "x", "type": "quantitative", "title": null, "axis": {"values": [0,5,10,15,20,25,30,35,40,45,50,55,60], "labelExpr": "['21:46','21:51','21:56','22:00','22:05','22:10','22:16','22:21','22:26','22:31','22:36','22:41','22:46'][round(datum.value/5)]"}}}},
   {"data": {"name": "ar_d"}, "mark": {"type": "rule", "color": "#000000", "strokeWidth": 1.5},
    "encoding": {"x": {"field": "x1", "type": "quantitative", "title": null, "axis": {"values": [0,5,10,15,20,25,30,35,40,45,50,55,60], "labelExpr": "['21:46','21:51','21:56','22:00','22:05','22:10','22:16','22:21','22:26','22:31','22:36','22:41','22:46'][round(datum.value/5)]"}}, "x2": {"field": "x2"}, "y": {"field": "y", "type": "quantitative", "scale": {"domain": [4400, 5000], "nice": false, "zero": false}, "axis": null},
     "strokeDash": {"condition": [{"test": "datum.k == 'curve'", "value": [6, 4]}, {"test": "datum.k == 'merge'", "value": [2, 2]}], "value": [1, 0]}}},
   {"data": {"name": "ar_d"}, "mark": {"type": "point", "shape": "M1,-1L0,0L1,1", "size": 70, "filled": false, "color": "#000000", "strokeWidth": 1.5, "opacity": 1},
    "encoding": {"x": {"field": "x1", "type": "quantitative", "title": null, "axis": {"values": [0,5,10,15,20,25,30,35,40,45,50,55,60], "labelExpr": "['21:46','21:51','21:56','22:00','22:05','22:10','22:16','22:21','22:26','22:31','22:36','22:41','22:46'][round(datum.value/5)]"}}, "y": {"field": "y", "type": "quantitative", "axis": null}}},
   {"data": {"name": "ar_d"}, "mark": {"type": "point", "shape": "M-1,-1L0,0L-1,1", "size": 70, "filled": false, "color": "#000000", "strokeWidth": 1.5, "opacity": 1},
    "encoding": {"x": {"field": "x2", "type": "quantitative", "title": null, "axis": {"values": [0,5,10,15,20,25,30,35,40,45,50,55,60], "labelExpr": "['21:46','21:51','21:56','22:00','22:05','22:10','22:16','22:21','22:26','22:31','22:36','22:41','22:46'][round(datum.value/5)]"}}, "y": {"field": "y", "type": "quantitative", "axis": null}}},
   {"data": {"name": "tx_d"}, "mark": {"type": "text", "font": "Noto Sans CJK JP", "fontSize": 13, "color": "#222222", "baseline": "middle"},
    "encoding": {"x": {"field": "x", "type": "quantitative", "title": null, "axis": {"values": [0,5,10,15,20,25,30,35,40,45,50,55,60], "labelExpr": "['21:46','21:51','21:56','22:00','22:05','22:10','22:16','22:21','22:26','22:31','22:36','22:41','22:46'][round(datum.value/5)]"}}, "y": {"field": "y", "type": "quantitative", "axis": null}, "text": {"field": "t"}}}
  ]}
 ],
 "resolve": {"scale": {"y": "independent"}}
},
{
 "width": 461, "height": 204,
 "title": {"text": "e)　D-1( Ⅰ )　小 2-F"},
 "layer": [
  {"data": {"name": "e"}, "layer": [
   {"transform": [{"fold": ["b"], "as": ["series", "v"]}],
    "mark": {"type": "line", "strokeWidth": 2},
    "encoding": {
     "x": {"field": "i", "type": "quantitative", "title": null, "scale": {"domain": [0, 80.6], "nice": false, "zero": false}, "axis": {"values": [0,5,10,15,20,25,30,35,40,45,50,55,60,65,70,75,80], "labelExpr": "['28:25','28:30','28:35','28:41','28:46','28:51','28:56','29:00','29:05','29:10','29:15','29:20','29:25','29:30','29:35','29:40','29:45'][round(datum.value/5)]"}},
     "y": {"field": "v", "type": "quantitative", "title": "血流量", "scale": {"domain": [4700, 5800], "nice": false, "zero": false}, "axis": {"values": [4700,4900,5100,5300,5500,5700], "titleAngle": 0, "titleX": -28, "titleY": -12, "titleAlign": "center", "titleBaseline": "bottom", "titleFontSize": 10}},
     "color": {"field": "series", "type": "nominal", "scale": {"domain": ["s","b","ms","mb"], "range": ["#00b050","#ffa000","#000000","#000000"]}},
     "strokeDash": {"field": "series", "type": "nominal", "scale": {"domain": ["s","b","ms","mb"], "range": [[1,0],[1,0],[1,0],[6,4]]}}
    }},
   {"transform": [{"window": [{"op": "mean", "field": "b", "as": "m"}], "frame": [-3, 0], "sort": [{"field": "i"}]}, {"filter": "datum.i >= 3"}],
    "mark": {"type": "line", "color": "#000000", "strokeWidth": 1, "strokeDash": [2, 2], "interpolate": "monotone"},
    "encoding": {"x": {"field": "i", "type": "quantitative", "title": null, "axis": {"values": [0,5,10,15,20,25,30,35,40,45,50,55,60,65,70,75,80], "labelExpr": "['28:25','28:30','28:35','28:41','28:46','28:51','28:56','29:00','29:05','29:10','29:15','29:20','29:25','29:30','29:35','29:40','29:45'][round(datum.value/5)]"}}, "y": {"field": "m", "type": "quantitative", "title": "血流量", "axis": {"values": [4700,4900,5100,5300,5500,5700], "titleAngle": 0, "titleX": -28, "titleY": -12, "titleAlign": "center", "titleBaseline": "bottom", "titleFontSize": 10}}}}
  ]},
  {"data": {"name": "e"}, "layer": [
   {"transform": [{"fold": ["s"], "as": ["series", "v"]}],
    "mark": {"type": "line", "strokeWidth": 2},
    "encoding": {
     "x": {"field": "i", "type": "quantitative", "title": null, "axis": {"values": [0,5,10,15,20,25,30,35,40,45,50,55,60,65,70,75,80], "labelExpr": "['28:25','28:30','28:35','28:41','28:46','28:51','28:56','29:00','29:05','29:10','29:15','29:20','29:25','29:30','29:35','29:40','29:45'][round(datum.value/5)]"}},
     "y": {"field": "v", "type": "quantitative", "title": "SpO₂", "scale": {"domain": [1700, 4900], "reverse": true, "nice": false, "zero": false}, "axis": {"orient": "right", "values": [1700,2200,2700,3200,3700,4200,4700], "titleAngle": 0, "titleX": 18, "titleY": -12, "titleAlign": "center", "titleBaseline": "bottom", "titleFontSize": 13, "titleFont": "Noto Sans"}},
     "color": {"field": "series", "type": "nominal", "scale": {"domain": ["s","b","ms","mb"], "range": ["#00b050","#ffa000","#000000","#000000"]}},
     "strokeDash": {"field": "series", "type": "nominal", "scale": {"domain": ["s","b","ms","mb"], "range": [[1,0],[1,0],[1,0],[6,4]]}}
    }},
   {"transform": [{"window": [{"op": "mean", "field": "s", "as": "m"}], "frame": [-3, 0], "sort": [{"field": "i"}]}, {"filter": "datum.i >= 3"}],
    "mark": {"type": "line", "color": "#000000", "strokeWidth": 1, "strokeDash": [2, 2], "interpolate": "monotone"},
    "encoding": {"x": {"field": "i", "type": "quantitative", "title": null, "axis": {"values": [0,5,10,15,20,25,30,35,40,45,50,55,60,65,70,75,80], "labelExpr": "['28:25','28:30','28:35','28:41','28:46','28:51','28:56','29:00','29:05','29:10','29:15','29:20','29:25','29:30','29:35','29:40','29:45'][round(datum.value/5)]"}}, "y": {"field": "m", "type": "quantitative", "title": "SpO₂", "axis": {"orient": "right", "values": [1700,2200,2700,3200,3700,4200,4700], "titleAngle": 0, "titleX": 18, "titleY": -12, "titleAlign": "center", "titleBaseline": "bottom", "titleFontSize": 13, "titleFont": "Noto Sans"}}}}
  ]},
  {"layer": [
   {"data": {"name": "ev_e"}, "mark": {"type": "rule", "color": "#000000", "strokeWidth": 2}, "encoding": {"x": {"field": "x", "type": "quantitative", "title": null, "axis": {"values": [0,5,10,15,20,25,30,35,40,45,50,55,60,65,70,75,80], "labelExpr": "['28:25','28:30','28:35','28:41','28:46','28:51','28:56','29:00','29:05','29:10','29:15','29:20','29:25','29:30','29:35','29:40','29:45'][round(datum.value/5)]"}}}},
   {"data": {"name": "ar_e"}, "mark": {"type": "rule", "color": "#000000", "strokeWidth": 1.5},
    "encoding": {"x": {"field": "x1", "type": "quantitative", "title": null, "axis": {"values": [0,5,10,15,20,25,30,35,40,45,50,55,60,65,70,75,80], "labelExpr": "['28:25','28:30','28:35','28:41','28:46','28:51','28:56','29:00','29:05','29:10','29:15','29:20','29:25','29:30','29:35','29:40','29:45'][round(datum.value/5)]"}}, "x2": {"field": "x2"}, "y": {"field": "y", "type": "quantitative", "scale": {"domain": [4700, 5800], "nice": false, "zero": false}, "axis": null},
     "strokeDash": {"condition": [{"test": "datum.k == 'curve'", "value": [6, 4]}, {"test": "datum.k == 'merge'", "value": [2, 2]}], "value": [1, 0]}}},
   {"data": {"name": "ar_e"}, "mark": {"type": "point", "shape": "M1,-1L0,0L1,1", "size": 70, "filled": false, "color": "#000000", "strokeWidth": 1.5, "opacity": 1},
    "encoding": {"x": {"field": "x1", "type": "quantitative", "title": null, "axis": {"values": [0,5,10,15,20,25,30,35,40,45,50,55,60,65,70,75,80], "labelExpr": "['28:25','28:30','28:35','28:41','28:46','28:51','28:56','29:00','29:05','29:10','29:15','29:20','29:25','29:30','29:35','29:40','29:45'][round(datum.value/5)]"}}, "y": {"field": "y", "type": "quantitative", "axis": null}}},
   {"data": {"name": "ar_e"}, "mark": {"type": "point", "shape": "M-1,-1L0,0L-1,1", "size": 70, "filled": false, "color": "#000000", "strokeWidth": 1.5, "opacity": 1},
    "encoding": {"x": {"field": "x2", "type": "quantitative", "title": null, "axis": {"values": [0,5,10,15,20,25,30,35,40,45,50,55,60,65,70,75,80], "labelExpr": "['28:25','28:30','28:35','28:41','28:46','28:51','28:56','29:00','29:05','29:10','29:15','29:20','29:25','29:30','29:35','29:40','29:45'][round(datum.value/5)]"}}, "y": {"field": "y", "type": "quantitative", "axis": null}}},
   {"data": {"name": "tx_e"}, "mark": {"type": "text", "font": "Noto Sans CJK JP", "fontSize": 13, "color": "#222222", "baseline": "middle"},
    "encoding": {"x": {"field": "x", "type": "quantitative", "title": null, "axis": {"values": [0,5,10,15,20,25,30,35,40,45,50,55,60,65,70,75,80], "labelExpr": "['28:25','28:30','28:35','28:41','28:46','28:51','28:56','29:00','29:05','29:10','29:15','29:20','29:25','29:30','29:35','29:40','29:45'][round(datum.value/5)]"}}, "y": {"field": "y", "type": "quantitative", "axis": null}, "text": {"field": "t"}}}
  ]}
 ],
 "resolve": {"scale": {"y": "independent"}}
}
]
}
